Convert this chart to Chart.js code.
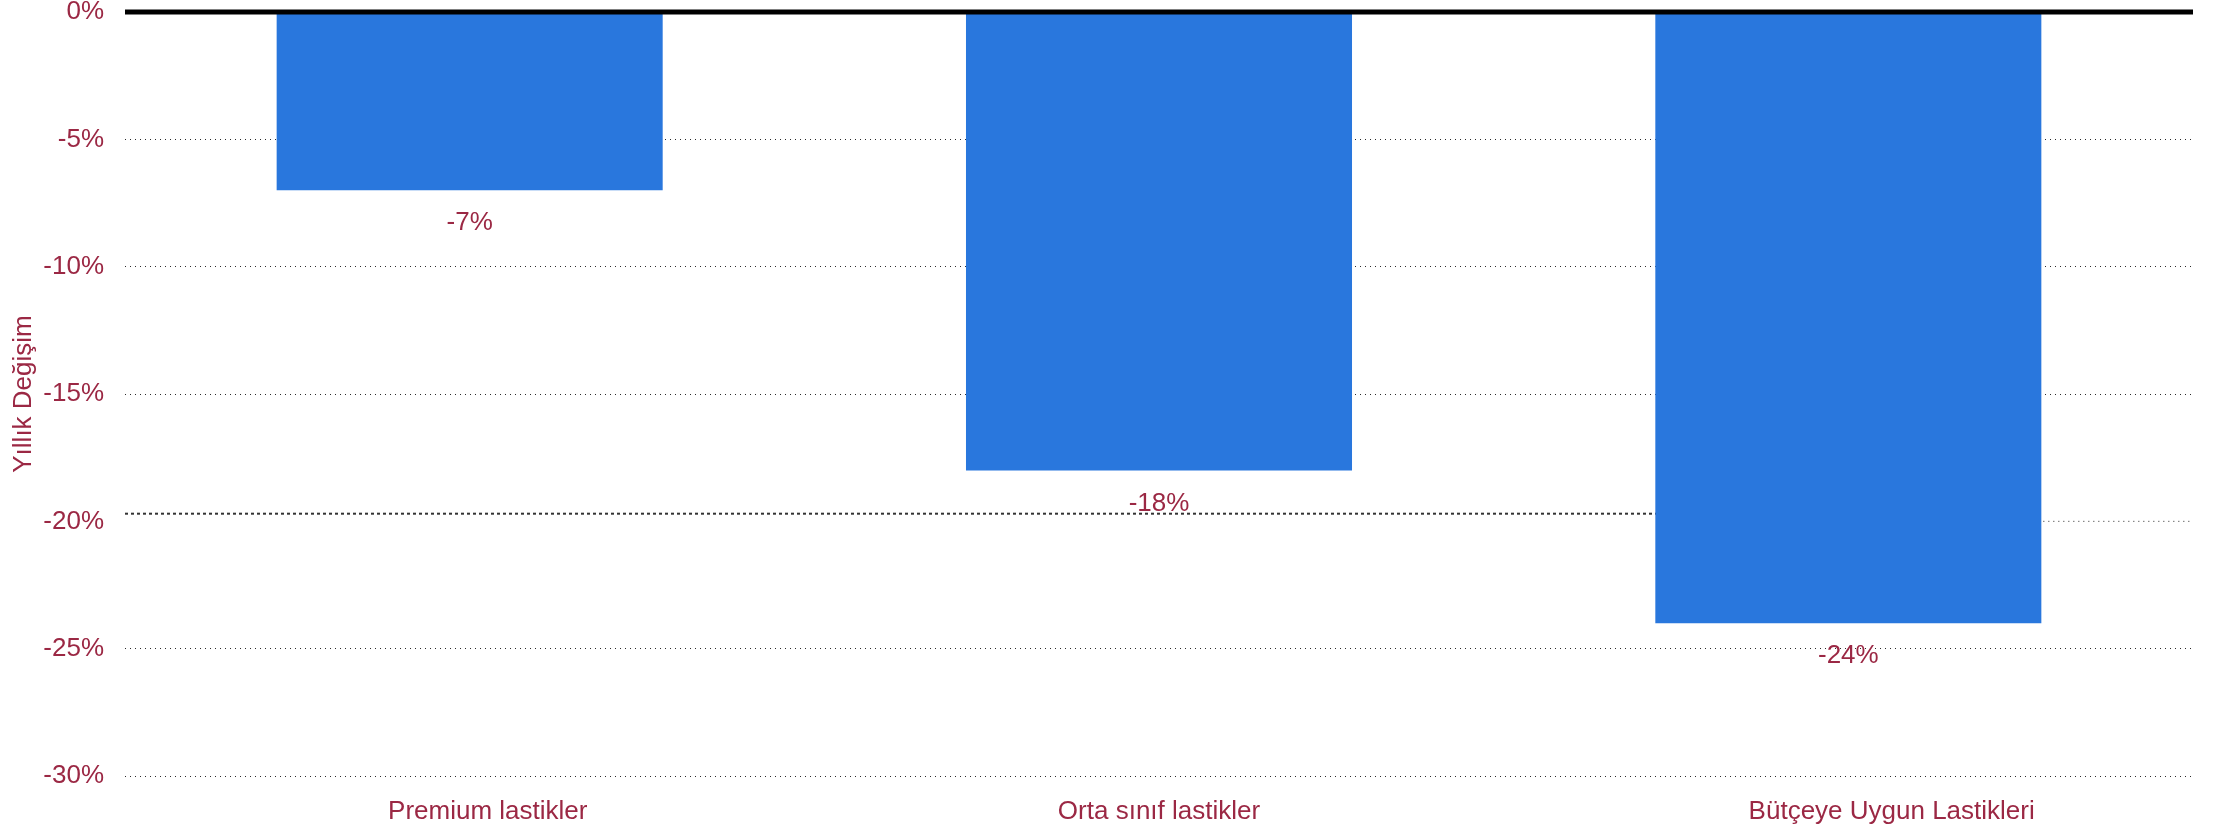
<!DOCTYPE html>
<html>
<head>
<meta charset="utf-8">
<script src="https://cdn.jsdelivr.net/npm/chart.js@4"></script>
<style>
  html, body { margin: 0; padding: 0; background: #fff; }
  #wrap { width: 2228px; height: 829px; position: relative; }
</style>
</head>
<body>
<div id="wrap"><canvas id="changeChart"></canvas></div>
<script>
// Yearly change by tyre segment
const categories = ['Premium lastikler', 'Orta sınıf lastikler', 'Bütçeye Uygun Lastikleri'];
const changeValues = [-7, -18, -24];
const valueLabels = ['-7%', '-18%', '-24%'];

// dashed reference line (value, and category-index span it covers)
const refLineValue = -19.7;
const refLineSpan = [-0.5, 2];
// the -20% grid line only shows to the right of the last bar
const hiddenGridValue = -20;
const gridRestSpan = [2, 2.5];

const yAxisTitle = 'Yıllık Değişim';
const yMin = -30;
const yMax = 0;
const yStep = 5;

const TEXT_COLOR = '#9b2844';
const BAR_COLOR = '#2977dd';
const GRID_COLOR = '#2a2a2a';
const FONT = { family: "'Liberation Sans', Arial, sans-serif", size: 26 };

// leading spaces nudging the category labels like in the original
const LABEL_SHIFT = [5, 0, 12];

// Draw value labels under each bar
const valueLabelPlugin = {
  id: 'valueLabels',
  afterDatasetsDraw(chart) {
    const meta = chart.getDatasetMeta(0);
    const ctx = chart.ctx;
    ctx.save();
    ctx.font = `${FONT.size}px ${FONT.family}`;
    ctx.fillStyle = TEXT_COLOR;
    ctx.textAlign = 'center';
    ctx.textBaseline = 'middle';
    meta.data.forEach((bar, i) => {
      ctx.fillText(valueLabels[i], bar.x, bar.y + 33);
    });
    ctx.restore();
  },
};

const ctx = document.getElementById('changeChart').getContext('2d');
new Chart(ctx, {
  type: 'bar',
  data: {
    labels: categories,
    datasets: [
      {
        data: changeValues,
        backgroundColor: BAR_COLOR,
        borderWidth: 0,
        grouped: false,
        barPercentage: 0.56,
        categoryPercentage: 1,
        order: 1,
      },
      {
        type: 'line',
        xAxisID: 'xl',
        data: refLineSpan.map(x => ({ x, y: refLineValue })),
        borderColor: '#333',
        borderWidth: 2,
        borderDash: [3, 3],
        pointRadius: 0,
        fill: false,
        order: 2,
      },
      {
        type: 'line',
        xAxisID: 'xl',
        data: gridRestSpan.map(x => ({ x, y: hiddenGridValue })),
        borderColor: GRID_COLOR,
        borderWidth: 1,
        borderDash: [1, 4],
        pointRadius: 0,
        fill: false,
        order: 3,
      },
      {
        type: 'line',
        xAxisID: 'xl',
        data: [{ x: -0.5, y: 0 }, { x: 2.5, y: 0 }],
        borderColor: '#000',
        borderWidth: 5,
        pointRadius: 0,
        fill: false,
        clip: false,
        order: 0,
      },
    ],
  },
  options: {
    responsive: true,
    maintainAspectRatio: false,
    animation: false,
    layout: { padding: { top: 12, right: 35, bottom: 0, left: 0 } },
    plugins: {
      legend: { display: false },
      tooltip: { enabled: false },
    },
    scales: {
      x: {
        grid: { display: false },
        border: { display: false },
        afterFit: s => {
          s.height = 53;
        },
        ticks: {
          color: TEXT_COLOR,
          font: FONT,
          padding: 12,
          maxRotation: 0,
          callback: (v, i) => ' '.repeat(LABEL_SHIFT[i]) + categories[i],
        },
      },
      xl: {
        type: 'linear',
        display: false,
        offset: false,
        min: -0.5,
        max: 2.5,
      },
      y: {
        min: yMin,
        max: yMax,
        afterFit: s => {
          s.width = 125;
          s.paddingTop = 0;
          s.paddingBottom = 0;
        },
        ticks: {
          stepSize: yStep,
          color: TEXT_COLOR,
          font: FONT,
          padding: 21,
          callback: v => v + '%',
        },
        grid: {
          drawTicks: false,
          color: c => (c.tick && (c.tick.value === 0 || c.tick.value === hiddenGridValue)
            ? 'rgba(0,0,0,0)' : GRID_COLOR),
          lineWidth: 1,
        },
        border: { display: false, dash: [1, 4] },
        title: {
          display: true,
          text: yAxisTitle,
          color: TEXT_COLOR,
          font: FONT,
          padding: { top: 8, bottom: 0 },
        },
      },
    },
  },
  plugins: [valueLabelPlugin],
});
</script>
</body>
</html>
